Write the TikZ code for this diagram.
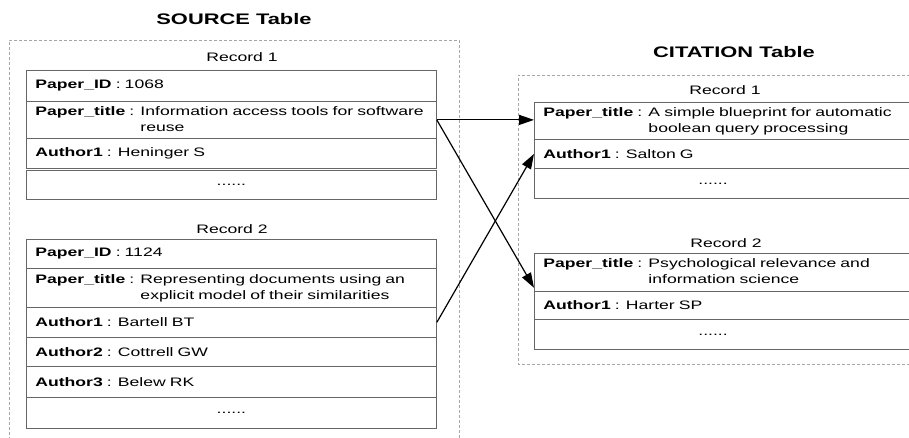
\documentclass[tikz,border=0pt]{standalone}
\usepackage{fontspec}
\setmainfont{Liberation Sans}[FakeStretch=1.43]
\usetikzlibrary{arrows.meta,calc}
\tikzset{
  outerbox/.style={draw=gray!70, line width=0.8pt, densely dashed},
  rowbox/.style={draw=gray!80!black, line width=0.8pt, rectangle, anchor=north west,
    minimum width=#1, text width=#1-18pt, inner xsep=9pt, inner ysep=0pt, align=left,
    font=\fontsize{12.3}{16}\selectfont},
  rowbox/.default=410pt,
  rectitle/.style={font=\fontsize{12.3}{15}\selectfont},
  tabletitle/.style={font=\bfseries\fontsize{15.3}{18}\selectfont},
  link/.style={draw=black, line width=1.2pt, -{Triangle[length=15pt,width=10pt]}}
}
\newcommand{\twoline}[2]{\begin{tabular}[t]{@{}l@{}}#1\\#2\end{tabular}}
\begin{document}
\begin{tikzpicture}[x=1pt,y=-1pt]
\useasboundingbox (0,0) rectangle (909,438);
\begin{scope}
\clip (0,0) rectangle (909,438);
% ---------- SOURCE ----------
\node[tabletitle] (stitle) at (234,19.5) {SOURCE Table};
\draw[outerbox] (9,450) -- (9,40) -- (459,40) -- (459,450);
\node[rectitle] (sr1) at (242,57.5) {Record 1};
\node[rowbox, minimum height=31pt] (s1id) at (26,70) {\textbf{Paper\_ID} : 1068};
\node[rowbox, minimum height=37pt] (s1title) at (26,101) {\textbf{Paper\_title} : \twoline{Information access tools for software}{reuse}};
\node[rowbox, minimum height=30pt] (s1a1) at (26,138) {\textbf{Author1} : Heninger S};
\node[rowbox, minimum height=29pt, align=center] (s1more) at (26,170) {......};

\node[rectitle] (sr2) at (232,229) {Record 2};
\node[rowbox, minimum height=29pt] (s2id) at (26,239) {\textbf{Paper\_ID} : 1124};
\node[rowbox, minimum height=39pt] (s2title) at (26,268) {\textbf{Paper\_title} : \twoline{Representing documents using an}{explicit model of their similarities}};
\node[rowbox, minimum height=30pt] (s2a1) at (26,307) {\textbf{Author1} : Bartell BT};
\node[rowbox, minimum height=29pt] (s2a2) at (26,337) {\textbf{Author2} : Cottrell GW};
\node[rowbox, minimum height=31pt] (s2a3) at (26,366) {\textbf{Author3} : Belew RK};
\node[rowbox, minimum height=31pt, align=center] (s2more) at (26,397) {......};

% ---------- CITATION ----------
\node[tabletitle] (ctitle) at (734,52.5) {CITATION Table};
\draw[outerbox] (940,75) -- (518,75) -- (518,364) -- (940,364);
\node[rectitle] (cr1) at (725,90) {Record 1};
\node[rowbox=400pt, minimum height=37pt] (c1title) at (534,102) {\textbf{Paper\_title} : \twoline{A simple blueprint for automatic}{boolean query processing}};
\node[rowbox=400pt, minimum height=29pt] (c1a1) at (534,139) {\textbf{Author1} : Salton G};
\node[rowbox=400pt, minimum height=30pt] (c1more) at (534,168) {\hspace*{155pt}......};

\node[rectitle] (cr2) at (726,243) {Record 2};
\node[rowbox=400pt, minimum height=38pt] (c2title) at (534,253) {\textbf{Paper\_title} : \twoline{Psychological relevance and}{information science}};
\node[rowbox=400pt, minimum height=28pt] (c2a1) at (534,291) {\textbf{Author1} : Harter SP};
\node[rowbox=400pt, minimum height=30pt] (c2more) at (534,319) {\hspace*{155pt}......};
\end{scope}

% ---------- links ----------
\draw[link] (s1title.east) -- (s1title.east -| c1title.west);
\draw[link] (s1title.east) -- ([yshift=4pt]c2title.south west);
\draw[link] (s2a1.east) -- (c1a1.west);
\end{tikzpicture}
\end{document}
